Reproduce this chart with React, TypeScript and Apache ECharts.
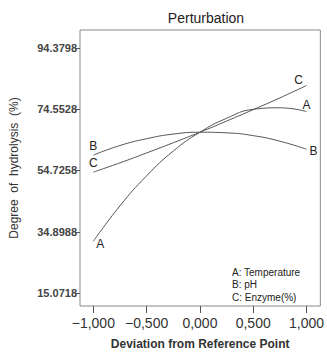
import React, { useEffect, useRef } from "react";
import * as echarts from "echarts";

const xs = [-1, -0.75, -0.5, -0.25, 0, 0.25, 0.5, 0.75, 1];
const seriesA = [31.8, 43.3, 53.0, 61.0, 67.1, 71.6, 74.5, 75.0, 73.8];
const seriesB = [59.7, 62.8, 65.0, 66.5, 67.1, 66.9, 66.0, 64.2, 61.6];
const seriesC = [54.2, 57.2, 60.4, 63.7, 67.1, 70.7, 74.4, 78.2, 82.2];
const yTicks = [15.0718, 34.8988, 54.7258, 74.5528, 94.3798];
const yTickLabels = ["15.0718", "34.8988", "54.7258", "74.5528", "94.3798"];
const xTicks = [-1, -0.5, 0, 0.5, 1];
const xTickLabels = ["\u22121,000", "\u22120,500", "0,000", "0,500", "1,000"];
const legendLines = ["A: Temperature", "B: pH", "C: Enzyme(%)"];

const font = "Liberation Sans, Arial, sans-serif";
const lineColor = "#555";

function mkSeries(name: string, vals: number[], leftPos: string, rightPos: string, leftOff: number[], rightOff: number[]) {
  return {
    type: "line",
    name,
    smooth: true,
    symbol: "none",
    lineStyle: { color: lineColor, width: 1 },
    data: vals.map((v, i) => {
      const item: any = { value: [xs[i], v] };
      if (i === 0 || i === vals.length - 1) {
        item.symbol = "circle";
        item.symbolSize = 0.1;
        item.label = {
          show: true,
          formatter: name,
          position: i === 0 ? leftPos : rightPos,
          offset: i === 0 ? leftOff : rightOff,
          color: "#222",
          fontSize: 12,
          fontFamily: font,
        };
      }
      return item;
    }),
  };
}

export default function App() {
  const ref = useRef<HTMLDivElement>(null);
  useEffect(() => {
    document.body.style.margin = "0";
    if (!ref.current) return;
    const chart = echarts.init(ref.current, null, { renderer: "svg" });
    chart.setOption({
      animation: false,
      backgroundColor: "#fff",
      title: {
        text: "Perturbation",
        left: 201,
        top: 6,
        textAlign: "center",
        textStyle: { fontSize: 14, fontWeight: "normal", color: "#222", fontFamily: font },
      },
      grid: {
        left: 80,
        top: 30,
        right: 5,
        bottom: 47,
        show: true,
        borderColor: "#888",
        borderWidth: 1,
      },
      xAxis: {
        type: "value",
        min: -1.125,
        max: 1.13,
        name: "Deviation from Reference Point",
        nameLocation: "middle",
        nameGap: 32,
        nameTextStyle: { fontSize: 12, fontWeight: "bold", color: "#333", fontFamily: font },
        axisLine: { show: false, onZero: false },
        splitLine: { show: false },
        axisTick: { show: true, customValues: xTicks, length: 7, lineStyle: { color: "#555" } },
        axisLabel: {
          customValues: xTicks,
          margin: 10,
          fontSize: 14,
          color: "#333",
          fontFamily: font,
          formatter: (v: number) => {
            const idx = xTicks.findIndex((t) => Math.abs(t - v) < 1e-6);
            return idx >= 0 ? xTickLabels[idx] : "";
          },
        },
      },
      yAxis: {
        type: "value",
        min: 10.9,
        max: 100.16,
        name: "Degree  of  hydrolysis  (%)",
        nameLocation: "middle",
        nameGap: 60,
        nameTextStyle: { fontSize: 12, color: "#333", fontFamily: font },
        axisLine: { show: false, onZero: false },
        splitLine: { show: false },
        axisTick: { show: true, customValues: yTicks, length: 4, lineStyle: { color: "#555" } },
        axisLabel: {
          customValues: yTicks,
          margin: 3,
          fontSize: 11,
          fontWeight: "bold",
          color: "#444",
          fontFamily: font,
          formatter: (v: number) => {
            const idx = yTicks.findIndex((t) => Math.abs(t - v) < 1e-6);
            return idx >= 0 ? yTickLabels[idx] : "";
          },
        },
      },
      graphic: legendLines.map((t, i) => ({
        type: "text",
        left: 232,
        top: 267 + i * 12.5,
        style: { text: t, fontSize: 10, fill: "#222", fontFamily: font },
      })),
      series: [
        mkSeries("A", seriesA, "right", "top", [-2, 3], [0, 5]),
        mkSeries("B", seriesB, "top", "right", [0, 2], [-2, 2]),
        mkSeries("C", seriesC, "top", "top", [0, 2], [-8, 6]),
      ],
    });
    return () => chart.dispose();
  }, []);
  return <div ref={ref} style={{ width: 327, height: 355 }} />;
}
